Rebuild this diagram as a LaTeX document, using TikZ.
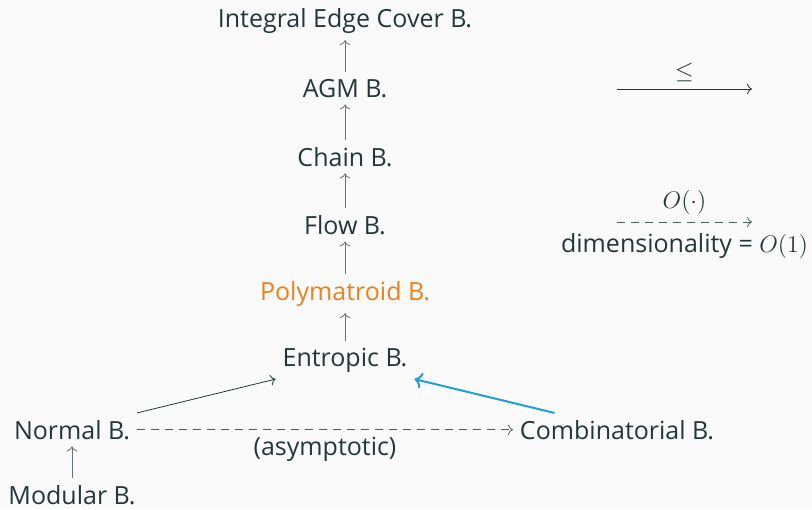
\documentclass[tikz,border=0pt]{standalone}
\usepackage{fontspec}
\setmainfont{Open Sans}
\usepackage{tikz}
\usetikzlibrary{arrows.meta, positioning, calc}

\definecolor{mDarkTeal}{HTML}{23373B}
\definecolor{mOrange}{HTML}{EB811B}
\definecolor{mBlue}{HTML}{1BA1E2}
\definecolor{mBack}{HTML}{FAFAFA}

\tikzset{
  bnd/.style={text=mDarkTeal},
  implies/.style={->, draw=mDarkTeal!70},
  leq/.style={->, draw=mDarkTeal},
  asym/.style={->, draw=mDarkTeal!80, dash pattern=on 4pt off 3pt},
}

\begin{document}
\begin{tikzpicture}[x=0.5pt, y=-0.5pt, font=\fontsize{12.5}{15}\selectfont]
  %% canvas
  \fill[mBack] (0,0) rectangle (812,509);
  \useasboundingbox (0,0) rectangle (812,509);

  %% main chain of bounds
  \node[bnd, anchor=base] (iec)     at (345,27)  {Integral Edge Cover B.};
  \node[bnd, anchor=base] (agm)     at (345,97)  {AGM B.};
  \node[bnd, anchor=base] (chain)   at (345,166) {Chain B.};
  \node[bnd, anchor=base] (flow)    at (345,234) {Flow B.};
  \node[bnd, anchor=base, text=mOrange] (poly) at (345,300) {Polymatroid B.};
  \node[bnd, anchor=base] (entropic) at (345,366) {Entropic B.};

  \draw[implies] (agm.north)      -- (iec.south);
  \draw[implies] (chain.north)    -- (agm.south);
  \draw[implies] (flow.north)     -- (chain.south);
  \draw[implies] (poly.north)     -- (flow.south);
  \draw[implies] (entropic.north) -- (poly.south);

  %% bottom row
  \node[bnd, anchor=base] (normal)  at (72,439)  {Normal B.};
  \node[bnd, anchor=base] (modular) at (72,504)  {Modular B.};
  \node[bnd, anchor=base] (comb)    at (617,439) {Combinatorial B.};

  \draw[implies] (modular.north) -- (normal.south);
  \draw[leq] (normal.north east) -- (entropic.south west);
  \draw[->, draw=mBlue, line width=1pt] (comb.165) -- (entropic.south east);
  \draw[asym] (normal.east) -- (comb.west)
    node[midway, below, bnd] {(asymptotic)};

  %% legend
  \coordinate (l1a) at (617,89);
  \coordinate (l1b) at (752,89);
  \draw[leq] (l1a) -- (l1b) node[midway, above, bnd] {$\leq$};

  \coordinate (l2a) at (617,222);
  \coordinate (l2b) at (752,222);
  \draw[asym] (l2a) -- (l2b)
    node[midway, above, bnd] {$O(\cdot)$}
    node[midway, below, bnd, yshift=-2pt] {dimensionality = $O(1)$};
\end{tikzpicture}
\end{document}
